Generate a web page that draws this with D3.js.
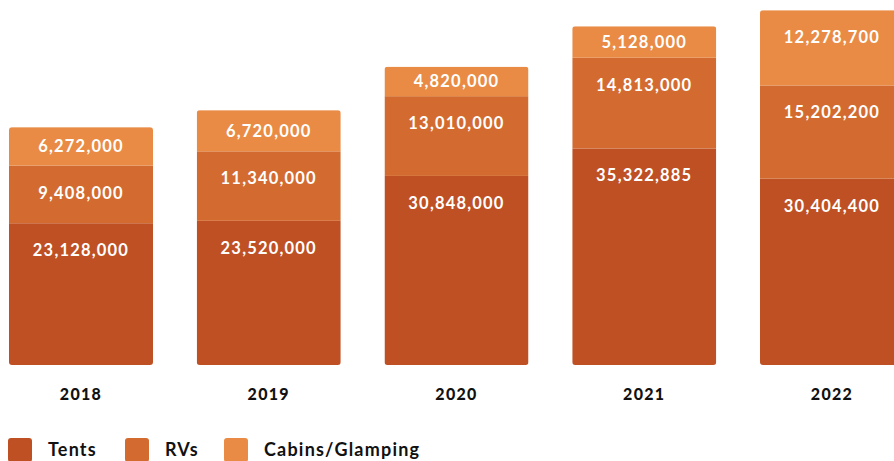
<!DOCTYPE html>
<html><head><meta charset="utf-8">
<script src="https://cdn.jsdelivr.net/npm/d3@7"></script>
<style>
html,body{margin:0;padding:0;background:#fff;}
svg{display:block;font-family:Lato, "Open Sans", sans-serif;}
</style></head>
<body><svg id="c" width="894" height="461"></svg>
<script>
const years = ["2018","2019","2020","2021","2022"];
const seriesNames = ["Tents","RVs","Cabins/Glamping"];
const tents = [23128000, 23520000, 30848000, 35322885, 30404400];
const rvs = [9408000, 11340000, 13010000, 14813000, 15202200];
const cabins = [6272000, 6720000, 4820000, 5128000, 12278700];
const colors = ["#BE5024", "#D36B30", "#E98B45"];

const rows = years.map((y,i)=>({year:y, "Tents":tents[i], "RVs":rvs[i], "Cabins/Glamping":cabins[i]}));
const stack = d3.stack().keys(seriesNames)(rows);

const svg = d3.select("#c");
const x = d3.scaleBand().domain(years).range([9, 904]).paddingInner(0.233).paddingOuter(0);
const y = d3.scaleLinear().domain([0, 58000000]).range([365, 9.5]);
const fmt = d3.format(",");

const defs = svg.append("defs");
years.forEach((yr,i)=>{
  const total = tents[i]+rvs[i]+cabins[i];
  defs.append("clipPath").attr("id","clip"+i).append("rect")
    .attr("x", x(yr)).attr("y", y(total)).attr("width", x.bandwidth())
    .attr("height", y(0)-y(total)).attr("rx",3).attr("ry",3);
});

const g = svg.append("g");
stack.forEach((layer, li)=>{
  layer.forEach((d, i)=>{
    g.append("rect")
      .attr("clip-path","url(#clip"+i+")")
      .attr("x", x(years[i])).attr("y", y(d[1]))
      .attr("width", x.bandwidth()).attr("height", y(d[0])-y(d[1]))
      .attr("fill", colors[li]);
  });
});
stack.forEach((layer, li)=>{
  layer.forEach((d, i)=>{
    const top = y(d[1]), h = y(d[0])-y(d[1]);
    g.append("text")
      .attr("x", x(years[i]) + x.bandwidth()/2)
      .attr("y", top + Math.min(h/2, 27))
      .attr("dy","0.36em")
      .attr("text-anchor","middle")
      .attr("fill","#fff")
      .attr("font-weight",700)
      .attr("font-size",16.5)
      .attr("letter-spacing","1.2px")
      .text(fmt(d.data[seriesNames[li]]));
  });
});

// x axis labels
svg.append("g").selectAll("text").data(years).join("text")
  .attr("x", d=>x(d)+x.bandwidth()/2)
  .attr("y", 394).attr("dy","0.36em")
  .attr("text-anchor","middle")
  .attr("font-weight",900).attr("font-size",16).attr("letter-spacing","1.3px")
  .attr("fill","#111")
  .text(d=>d);

// legend
const legX = [8, 125, 224];
const leg = svg.append("g");
seriesNames.forEach((n,i)=>{
  leg.append("rect").attr("x", legX[i]).attr("y", 438).attr("width",24).attr("height",24)
    .attr("rx",3).attr("fill", colors[i]);
  leg.append("text").attr("x", legX[i]+40).attr("y", 450).attr("dy","0.36em")
    .attr("font-weight",700).attr("font-size",18).attr("letter-spacing","1.2px")
    .attr("fill","#111").text(n);
});
</script></body></html>
